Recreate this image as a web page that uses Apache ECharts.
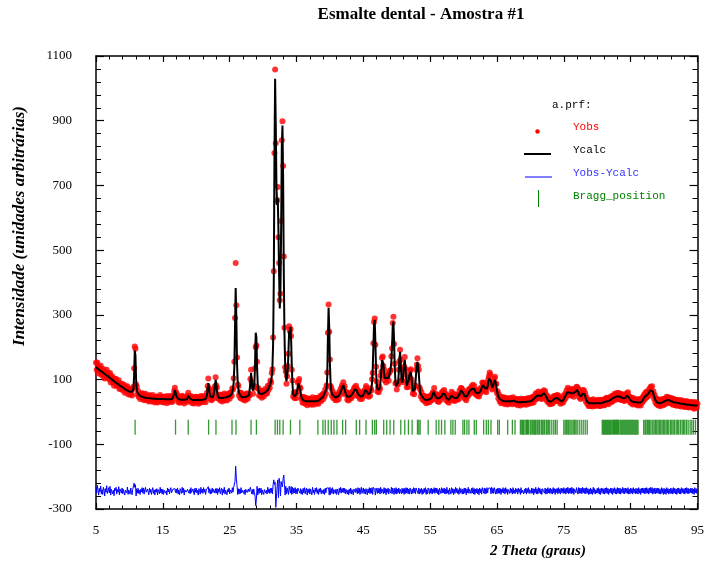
<!DOCTYPE html>
<html><head><meta charset="utf-8">
<script src="https://cdn.jsdelivr.net/npm/echarts@6/dist/echarts.min.js"></script>
<style>html,body{margin:0;padding:0;background:#fff}#c{width:707px;height:563px}</style>
</head><body><div id="c"></div>
<script>
// 2-theta grid: START + i*STEP (degrees)
const START = 5, STEP = 0.1;

const yobs = [
152,130,153,136,119,139,126,143,116,129,
112,133,123,103,124,111,130,104,111,119,
101,120,91,108,110,90,100,81,103,94,
102,80,92,83,98,71,88,81,72,87,
67,80,84,59,73,77,62,79,55,68,
70,53,71,57,51,70,78,135,202,195,
85,78,54,65,46,54,40,55,46,58,
40,56,36,49,56,41,36,50,44,32,
52,38,48,32,44,52,34,45,29,46,
37,48,29,45,41,32,52,35,47,31,
46,29,42,48,33,40,27,49,37,46,
31,43,50,34,31,48,48,65,75,60,
61,40,52,31,42,28,46,39,31,50,
33,47,26,42,45,35,31,50,59,42,
48,32,49,34,27,44,39,26,46,34,
47,31,40,25,45,38,28,49,34,44,
31,49,36,45,30,46,59,80,103,73,
66,39,49,36,53,41,56,72,79,107,
82,75,42,53,41,54,35,45,52,32,
50,39,57,36,48,54,35,52,46,58,
41,54,61,50,73,69,104,155,290,460,
330,168,85,80,51,60,43,59,41,48,
54,38,49,35,52,57,44,40,57,50,
52,102,130,92,80,56,75,80,135,200,
205,155,73,73,51,65,49,63,44,60,
65,48,64,71,56,67,57,80,68,83,
75,97,91,120,132,230,435,800,1058,830,
650,655,695,540,460,345,365,590,840,898,
760,480,260,138,125,87,110,142,180,265,
250,256,235,130,97,48,59,43,58,42,
62,58,90,95,102,76,73,41,47,28,
45,30,45,25,36,43,21,39,29,41,
24,40,35,22,45,28,37,23,42,31,
44,27,39,25,44,35,50,34,48,55,
39,58,48,69,57,82,122,245,332,248,
162,80,74,50,65,43,53,55,37,51,
36,54,51,39,62,52,72,60,82,77,
92,73,79,54,61,61,38,50,35,54,
42,59,42,58,64,49,72,76,69,81,
72,52,67,47,61,40,52,59,40,52,
62,49,68,59,80,74,51,62,47,65,
50,73,66,101,120,212,278,289,208,140,
94,63,76,61,78,71,112,124,167,171,
142,131,98,109,91,113,108,118,96,121,
128,129,172,197,275,294,210,149,88,91,
69,87,85,130,157,192,161,97,99,92,
133,140,170,133,116,76,88,77,107,106,
128,132,101,91,57,69,55,79,82,130,
146,166,142,130,76,69,48,61,40,50,
35,49,34,48,27,42,29,48,40,30,
48,35,53,38,61,58,74,49,57,39,
52,33,46,31,52,47,38,59,46,64,
53,68,46,56,36,52,32,41,28,49,
50,38,62,47,57,35,48,34,54,40,
53,38,52,40,66,55,74,73,56,67,
47,60,41,55,36,56,47,68,53,71,
72,59,79,66,84,64,80,56,67,53,
66,49,64,48,70,58,75,65,91,88,
77,90,65,77,61,83,75,101,110,122,
116,87,94,69,83,73,103,109,86,87,
58,64,42,53,33,46,27,42,31,46,
28,42,24,44,29,40,23,38,42,26,
43,28,40,24,45,29,38,25,41,28,
38,21,40,26,36,20,41,25,34,40,
23,37,26,41,22,40,28,43,25,38,
42,27,45,30,46,29,49,39,58,40,
57,42,63,47,60,42,55,40,61,61,
67,51,64,41,52,33,48,29,40,24,
41,25,39,26,48,34,49,32,50,39,
52,34,51,32,43,25,43,28,41,29,
51,38,56,43,66,55,75,54,69,52,
67,50,72,54,67,47,65,71,59,78,
76,57,71,45,57,40,57,44,68,53,
67,48,58,32,45,25,37,18,34,18,
37,19,33,17,39,22,35,18,31,21,
36,21,38,18,34,18,38,24,37,21,
38,21,41,26,44,27,43,24,41,31,
47,31,49,32,51,39,56,38,54,39,
59,43,58,40,57,37,52,39,55,35,
51,34,53,40,58,45,61,37,48,30,
45,27,40,23,43,27,38,23,39,23,
37,20,40,23,36,20,40,28,46,34,
53,39,59,44,63,47,63,49,72,61,
78,62,79,55,64,41,52,29,42,24,
39,21,37,19,33,18,39,23,38,21,
41,25,41,25,47,32,45,28,42,28,
44,26,40,22,41,23,38,21,36,19,
37,22,37,19,33,17,36,20,33,17,
32,15,33,17,33,15,31,14,29,17,
31,15,30,13,28,10,31,15,28,13,
25
];

// Calculated profile, same grid
const ycalc = [
138,136,135,133,131,130,128,127,125,124,
122,121,119,118,116,114,113,111,110,108,
106,105,103,102,100,98,97,95,94,92,
90,89,87,86,84,82,81,80,78,77,
75,74,73,71,70,68,67,66,65,64,
63,62,61,61,62,64,70,110,190,175,
100,70,60,56,53,51,50,49,48,47,
46,46,45,45,44,44,44,43,43,43,
43,42,42,42,42,41,41,41,41,41,
40,40,40,40,40,40,40,40,40,40,
40,39,39,39,39,39,39,39,39,39,
39,39,39,39,40,42,46,56,67,64,
54,46,42,40,39,39,38,38,38,38,
38,38,38,38,38,38,39,44,50,48,
43,40,38,38,37,37,37,37,37,37,
37,37,37,37,37,37,37,37,38,38,
38,38,39,39,40,42,50,72,89,78,
58,48,44,43,43,45,50,62,85,99,
88,66,52,46,44,43,43,43,43,44,
44,44,45,45,45,46,46,47,48,48,
49,50,52,56,62,72,92,140,260,383,
290,150,95,72,60,54,50,48,46,45,
45,45,45,46,46,47,48,49,50,52,
58,90,120,100,75,66,68,85,150,245,
230,140,85,65,58,55,54,54,55,56,
57,58,59,60,62,64,66,68,72,76,
82,88,96,110,140,210,400,780,1030,880,
700,640,660,560,420,320,380,560,820,885,
720,430,240,150,110,95,100,130,190,250,
240,262,220,140,85,55,50,48,47,50,
56,66,80,88,90,82,65,50,42,38,
36,35,34,33,33,33,33,33,33,33,
33,33,33,33,33,33,33,33,33,33,
33,34,34,35,36,38,40,42,44,46,
47,52,58,60,62,72,110,230,322,260,
150,90,66,56,54,52,48,45,44,45,
46,47,48,50,53,56,60,66,74,80,
82,78,70,62,55,50,47,46,46,47,
48,49,51,53,56,60,65,70,73,72,
67,60,56,53,52,50,48,47,47,49,
52,56,62,68,72,70,62,55,52,54,
58,64,72,90,130,200,270,284,220,130,
85,70,66,66,70,80,100,130,160,166,
150,120,104,100,102,106,112,108,105,115,
120,135,160,205,265,279,220,140,95,80,
78,80,90,120,165,186,150,105,90,98,
125,150,161,140,105,82,78,85,100,115,
118,124,110,85,64,58,60,70,90,120,
140,155,150,120,85,62,54,52,50,45,
42,40,38,37,37,37,37,38,38,39,
40,41,43,47,54,62,63,56,48,44,
42,41,41,42,43,44,45,48,52,56,
58,58,55,49,44,40,38,37,38,40,
43,47,51,52,49,45,42,41,42,44,
44,45,47,50,55,61,66,68,65,60,
55,50,47,46,47,49,52,56,60,65,
62,66,70,72,73,73,72,66,60,58,
57,57,58,59,60,63,68,74,80,83,
83,80,74,69,68,72,80,92,103,109,
106,95,82,75,74,80,92,99,95,80,
66,55,48,43,40,38,37,36,35,35,
34,34,33,33,33,33,33,33,33,33,
33,33,33,33,34,35,34,33,32,31,
31,30,30,30,30,30,30,31,31,31,
31,31,31,31,31,32,32,32,32,33,
33,34,35,36,38,40,42,44,46,48,
50,51,52,52,51,50,49,50,53,56,
58,57,54,50,45,41,37,34,32,31,
31,32,33,35,37,39,41,42,43,43,
43,42,40,38,36,34,33,32,33,36,
40,44,48,52,56,60,63,62,60,58,
57,58,60,60,58,57,58,61,64,67,
68,66,60,52,47,46,48,52,56,58,
58,55,48,40,34,31,29,28,27,27,
27,27,27,27,27,27,27,27,27,27,
27,27,27,27,27,28,28,28,29,29,
30,30,31,32,33,34,34,34,35,36,
37,38,40,42,43,44,45,46,47,48,
48,49,49,48,47,46,45,44,43,42,
42,42,43,45,50,52,50,46,42,38,
35,33,32,32,32,32,31,31,30,30,
29,29,29,29,29,30,31,33,36,40,
44,47,49,51,52,53,55,58,62,66,
66,68,68,64,56,48,42,37,33,30,
29,28,28,27,27,27,28,29,30,31,
32,33,34,35,36,37,37,37,36,35,
34,33,32,31,30,29,29,29,29,29,
28,28,27,27,26,26,25,25,25,24,
24,24,23,23,22,22,22,22,22,22,
21,21,21,21,21,20,20,20,20,20,
19
];

// Bragg reflection positions (2-theta, deg)
const braggPositions = [
10.85,16.9,18.8,21.85,22.95,25.35,25.95,28.2,29.0,31.8,32.15,32.5,33.0,34.1,35.5,
38.2,38.95,39.3,39.75,40.2,40.6,41.05,41.9,42.35,43.95,44.45,45.4,46.35,46.7,46.95,
48.05,48.5,49.0,49.55,50.6,51.2,51.75,52.3,53.1,53.3,53.5,54.7,55.9,56.3,56.7,57.2,
58.1,58.4,58.75,59.9,60.15,60.5,60.8,61.6,61.9,63.0,63.4,63.7,64.1,65.1,65.35,66.6,
67.3,67.7,68.5,68.7,68.85,69.0,69.2,69.4,69.55,69.7,69.95,70.1,70.3,70.5,70.65,70.8,
71.0,71.15,71.35,71.6,71.75,71.9,72.1,72.35,72.5,72.7,72.9,73.2,73.5,73.75,74.0,
75.0,75.2,75.4,75.6,75.75,75.95,76.2,76.4,76.6,76.8,77.0,77.3,77.6,77.9,78.2,78.5,
80.75,80.9,81.05,81.2,81.35,81.5,81.65,81.8,81.95,82.1,82.3,82.45,82.6,82.75,82.9,
83.05,83.2,83.4,83.55,83.7,83.85,84.0,84.15,84.3,84.45,84.6,84.75,84.9,85.05,85.2,
85.35,85.5,85.65,85.8,85.95,86.1,86.95,87.15,87.3,87.5,87.7,87.85,88.05,88.3,88.5,
88.7,88.9,89.1,89.3,89.5,89.7,89.9,90.1,90.3,90.5,90.7,90.95,91.15,91.35,91.55,91.8,
92.0,92.2,92.45,92.7,92.9,93.1,93.35,93.6,93.9,94.15,94.4,94.7
];

const DIFF_BASE = -245;   // vertical offset of the Yobs-Ycalc curve
const BRAGG_LEVEL = -47;  // level of the Bragg tick row

const legendItems = ['Yobs', 'Ycalc', 'Yobs-Ycalc', 'Bragg_position'];

const twoTheta = yobs.map((_, i) => +(START + i * STEP).toFixed(1));
const obsData = yobs.map((v, i) => [twoTheta[i], v]);
const calcData = ycalc.map((v, i) => [twoTheta[i], v]);
const diffData = yobs.map((v, i) => [twoTheta[i], v - ycalc[i] + DIFF_BASE]);
const braggData = braggPositions.map(p => [p, BRAGG_LEVEL]);

const serif = '"Liberation Serif", "Times New Roman", serif';
const mono = '"Liberation Mono", "DejaVu Sans Mono", monospace';

function xAx(pos, labels) {
  return {
    type: 'value', position: pos, min: 5, max: 95, interval: 10,
    axisLine: { show: true, onZero: false, lineStyle: { color: '#000', width: 1.5 } },
    axisTick: { show: true, inside: true, length: 6, lineStyle: { color: '#000', width: 1.2 } },
    minorTick: { show: true, splitNumber: 5, length: 3.5, lineStyle: { color: '#000', width: 1 } },
    axisLabel: { show: labels, margin: 15, fontFamily: serif, fontSize: 13, color: '#000',
      formatter: v => String(v) },
    splitLine: { show: false }
  };
}
function yAx(pos, labels) {
  return {
    type: 'value', position: pos, min: -300, max: 1100, interval: 200,
    axisLine: { show: true, onZero: false, lineStyle: { color: '#000', width: 1.5 } },
    axisTick: { show: true, inside: true, length: 8, lineStyle: { color: '#000', width: 1.2 } },
    minorTick: { show: true, splitNumber: 5, length: 5, lineStyle: { color: '#000', width: 1 } },
    axisLabel: { show: labels, margin: 24, fontFamily: serif, fontSize: 13, color: '#000',
      formatter: v => String(v) },
    splitLine: { show: false }
  };
}

const chart = echarts.init(document.getElementById('c'));
chart.setOption({
  animation: false,
  backgroundColor: '#fff',
  grid: { left: 96, top: 56, width: 605, height: 453 },
  xAxis: [xAx('bottom', true), xAx('top', false)],
  yAxis: [yAx('left', true), yAx('right', false)],
  series: [
    { name: legendItems[0], type: 'scatter', data: obsData, symbol: 'circle', symbolSize: 6,
      itemStyle: { color: '#ff0000' }, silent: true, z: 2 },
    { name: legendItems[1], type: 'line', data: calcData, showSymbol: false, symbol: 'none',
      lineStyle: { color: '#000', width: 2 }, silent: true, z: 3 },
    { name: legendItems[2], type: 'line', data: diffData, showSymbol: false, symbol: 'none',
      lineStyle: { color: '#0000ff', width: 1 }, silent: true, z: 3 },
    { name: legendItems[3], type: 'scatter', data: braggData, symbol: 'rect', symbolSize: [1.3, 15],
      itemStyle: { color: '#008000' }, silent: true, z: 3 }
  ],
  graphic: [
    { type: 'text', x: 421, y: 15, style: { text: 'Esmalte dental - Amostra #1', font: 'bold 17px ' + serif,
      fill: '#000', align: 'center', verticalAlign: 'middle', textAlign: 'center', textVerticalAlign: 'middle' } },
    { type: 'text', x: 20, y: 226, rotation: Math.PI / 2, style: { text: 'Intensidade (unidades arbitrárias)',
      font: 'italic bold 17px ' + serif, fill: '#000', align: 'center', verticalAlign: 'middle',
      textAlign: 'center', textVerticalAlign: 'middle' } },
    { type: 'text', x: 538, y: 551, style: { text: '2 Theta (graus)', font: 'italic bold 15px ' + serif,
      fill: '#000', align: 'center', verticalAlign: 'middle', textAlign: 'center', textVerticalAlign: 'middle' } },
    { type: 'text', x: 552, y: 105, style: { text: 'a.prf:', font: '11px ' + mono, fill: '#000',
      verticalAlign: 'middle', textVerticalAlign: 'middle' } },
    { type: 'circle', shape: { cx: 537.5, cy: 131.5, r: 2.2 }, style: { fill: '#ff0000' } },
    { type: 'text', x: 573, y: 127.5, style: { text: legendItems[0], font: '11px ' + mono, fill: '#ff0000',
      verticalAlign: 'middle', textVerticalAlign: 'middle' } },
    { type: 'line', shape: { x1: 524, y1: 154, x2: 551, y2: 154 }, style: { stroke: '#000', lineWidth: 2 } },
    { type: 'text', x: 573, y: 150.5, style: { text: legendItems[1], font: '11px ' + mono, fill: '#000',
      verticalAlign: 'middle', textVerticalAlign: 'middle' } },
    { type: 'line', shape: { x1: 525, y1: 177, x2: 552, y2: 177 }, style: { stroke: '#0000ff', lineWidth: 1 } },
    { type: 'text', x: 573, y: 173, style: { text: legendItems[2], font: '11px ' + mono, fill: '#3333ff',
      verticalAlign: 'middle', textVerticalAlign: 'middle' } },
    { type: 'line', shape: { x1: 538.5, y1: 190, x2: 538.5, y2: 207 }, style: { stroke: '#008000', lineWidth: 1 } },
    { type: 'text', x: 573, y: 196, style: { text: legendItems[3], font: '11px ' + mono, fill: '#008000',
      verticalAlign: 'middle', textVerticalAlign: 'middle' } }
  ]
});
</script></body></html>
